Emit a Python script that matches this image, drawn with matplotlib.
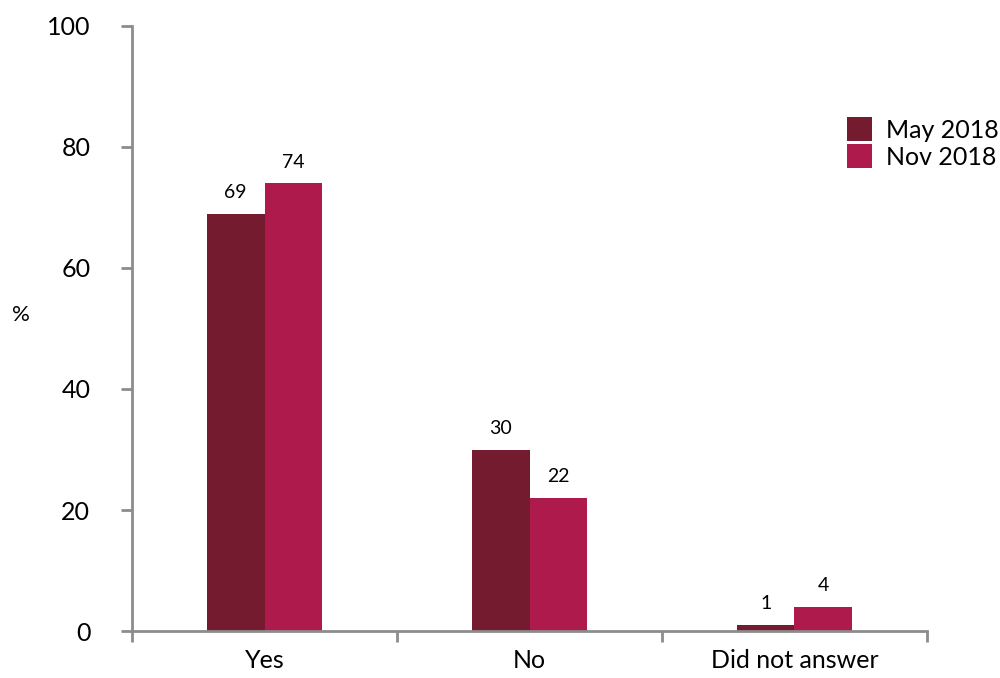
''' survey answers by wave '''
import numpy as np
import matplotlib
matplotlib.use('Agg')
import matplotlib.pyplot as plt

CATEGORIES = ['Yes', 'No', 'Did not answer']
MAY_2018 = [69, 30, 1]
NOV_2018 = [74, 22, 4]
SERIES_NAMES = ['May 2018', 'Nov 2018']
Y_TICKS = [0, 20, 40, 60, 80, 100]

MAY_COLOR = '#751B30'
NOV_COLOR = '#AE1A4B'
AXIS_COLOR = '#8C8C8C'


def main():
    '''main function'''
    plt.rcParams['font.family'] = ['Lato', 'DejaVu Sans']
    fig = plt.figure(figsize=(10, 6.78), dpi=100)
    ax = fig.add_axes([0.132, 0.0693, 0.795, 0.8924])

    x = np.arange(len(CATEGORIES))
    width = 0.217
    b1 = ax.bar(x - width / 2, MAY_2018, width, color=MAY_COLOR, label=SERIES_NAMES[0])
    b2 = ax.bar(x + width / 2, NOV_2018, width, color=NOV_COLOR, label=SERIES_NAMES[1])
    ax.bar_label(b1, padding=9, fontsize=14)
    ax.bar_label(b2, padding=9, fontsize=14)

    ax.set_xlim(-0.5, len(CATEGORIES) - 0.5)
    ax.set_ylim(0, 100)
    ax.set_yticks(Y_TICKS)
    ax.set_xticks(x)
    ax.set_xticklabels(CATEGORIES)
    ax.set_xticks(np.arange(len(CATEGORIES) + 1) - 0.5, minor=True)
    ax.tick_params(axis='x', which='major', length=0, labelsize=18, pad=13)
    ax.tick_params(axis='x', which='minor', length=8, width=2, color=AXIS_COLOR)
    ax.tick_params(axis='y', length=8, width=2, color=AXIS_COLOR, labelsize=18, pad=22)

    for side in ['top', 'right']:
        ax.spines[side].set_visible(False)
    for side in ['left', 'bottom']:
        ax.spines[side].set_color(AXIS_COLOR)
        ax.spines[side].set_linewidth(2)

    fig.text(0.021, 0.535, '%', fontsize=16, ha='center', va='center')

    fig.legend(loc='upper left', bbox_to_anchor=(0.837, 0.842), frameon=False,
               fontsize=18, handlelength=1.0, handleheight=1.1,
               handletextpad=0.55, labelspacing=0.1, borderaxespad=0)

    fig.savefig('out.png', dpi=100)


if __name__ == "__main__":
    main()
